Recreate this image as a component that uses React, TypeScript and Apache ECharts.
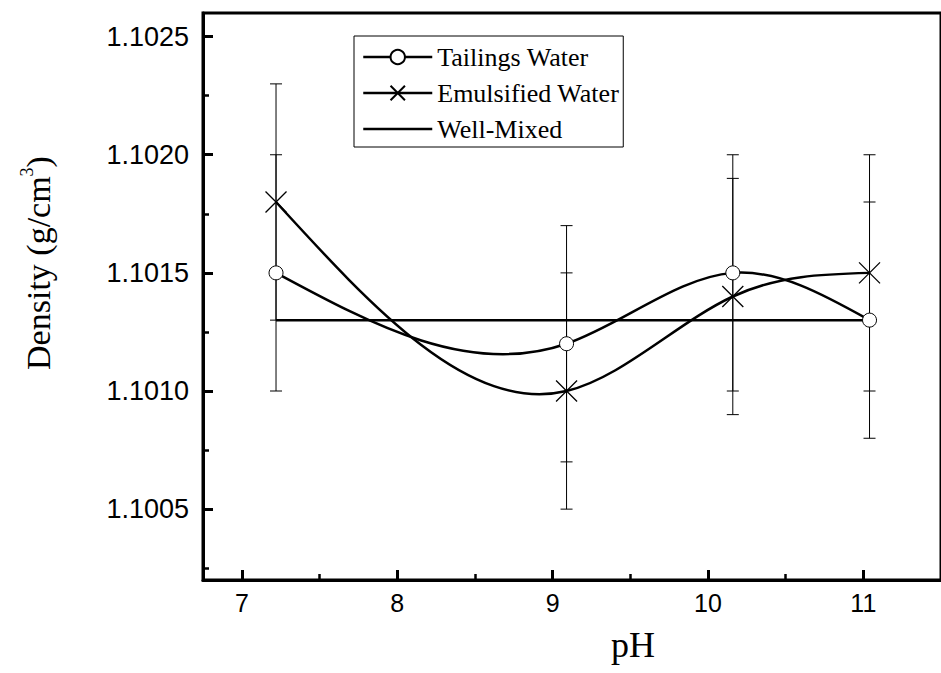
import React, { useEffect, useRef } from "react";
import * as echarts from "echarts";

const phValues = [7.22, 9.09, 10.16, 11.04];
const tailingsWater = [1.1015, 1.1012, 1.1015, 1.1013];
const tailingsErr = [0.0005, 0.0005, 0.0005, 0.0005];
const emulsifiedWater = [1.1018, 1.101, 1.1014, 1.1015];
const emulsifiedErr = [0.0005, 0.0005, 0.0005, 0.0005];
const wellMixed = [1.1013, 1.1013, 1.1013, 1.1013];
const seriesNames = ["Tailings Water", "Emulsified Water", "Well-Mixed"];
const xTicks = [7, 8, 9, 10, 11];
const xMinorTicks = [7.5, 8.5, 9.5, 10.5];
const yTicks = [1.1005, 1.101, 1.1015, 1.102, 1.1025];
const yMinorTicks = [1.10025, 1.10075, 1.10125, 1.10175, 1.10225];

const X_MIN = 6.75;
const X_MAX = 11.5;
const Y_MIN = 1.1002;
const Y_MAX = 1.1026;

const pairs = (vals: number[]) => phValues.map((x, i) => [x, vals[i]]);
const errData = (vals: number[], errs: number[]) =>
  phValues.map((x, i) => [x, vals[i] - errs[i], vals[i] + errs[i]]);

const errorRender = (params: any, api: any) => {
  const x = api.value(0);
  const lo = api.coord([x, api.value(1)]);
  const hi = api.coord([x, api.value(2)]);
  const hw = 6;
  const style = { stroke: "#000", lineWidth: 1, fill: "none" };
  return {
    type: "group",
    children: [
      { type: "line", shape: { x1: lo[0], y1: lo[1], x2: hi[0], y2: hi[1] }, style },
      { type: "line", shape: { x1: lo[0] - hw, y1: lo[1], x2: lo[0] + hw, y2: lo[1] }, style },
      { type: "line", shape: { x1: hi[0] - hw, y1: hi[1], x2: hi[0] + hw, y2: hi[1] }, style },
    ],
  };
};

// Natural cubic spline connecting line (Origin "Spline" style), drawn in pixel space
const splineRender = (vals: number[]) => (params: any, api: any) => {
  const i = params.dataIndex;
  const n = phValues.length;
  if (i >= n - 1) return { type: "group", children: [] };
  const pts = phValues.map((x, k) => api.coord([x, vals[k]]));
  const xs = pts.map((p: number[]) => p[0]);
  const ys = pts.map((p: number[]) => p[1]);
  const h: number[] = [];
  for (let k = 0; k < n - 1; k++) h[k] = xs[k + 1] - xs[k];
  const M = new Array(n).fill(0);
  const a: number[] = [], b: number[] = [], c: number[] = [], d: number[] = [];
  for (let k = 1; k < n - 1; k++) {
    a[k] = h[k - 1];
    b[k] = 2 * (h[k - 1] + h[k]);
    c[k] = h[k];
    d[k] = 6 * ((ys[k + 1] - ys[k]) / h[k] - (ys[k] - ys[k - 1]) / h[k - 1]);
  }
  for (let k = 2; k < n - 1; k++) {
    const w = a[k] / b[k - 1];
    b[k] -= w * c[k - 1];
    d[k] -= w * d[k - 1];
  }
  for (let k = n - 2; k >= 1; k--) {
    M[k] = (d[k] - (k < n - 2 ? c[k] * M[k + 1] : 0)) / b[k];
  }
  const sec = (ys[i + 1] - ys[i]) / h[i];
  const s0 = sec - (h[i] * (2 * M[i] + M[i + 1])) / 6;
  const s1 = sec + (h[i] * (2 * M[i + 1] + M[i])) / 6;
  const t = h[i] / 3;
  return {
    type: "bezierCurve",
    shape: {
      x1: xs[i],
      y1: ys[i],
      cpx1: xs[i] + t,
      cpy1: ys[i] + s0 * t,
      cpx2: xs[i + 1] - t,
      cpy2: ys[i + 1] - s1 * t,
      x2: xs[i + 1],
      y2: ys[i + 1],
    },
    style: { stroke: "#000", lineWidth: 2.5, fill: "none" },
  };
};

export default function App() {
  const ref = useRef<HTMLDivElement>(null);
  useEffect(() => {
    if (!ref.current) return;
    const chart = echarts.init(ref.current, null, { renderer: "svg" });
    const axisCommon = {
      type: "value",
      splitLine: { show: false },
    };
    chart.setOption({
      animation: false,
      backgroundColor: "#fff",
      grid: {
        left: 203,
        top: 13,
        width: 748,
        height: 567,
        show: true,
        borderColor: "#000",
        borderWidth: 3,
        backgroundColor: "transparent",
      },
      legend: {
        data: [
          seriesNames[0],
          seriesNames[1],
          { name: seriesNames[2], itemStyle: { opacity: 0 } },
        ],
        orient: "vertical",
        left: 354,
        top: 36,
        itemWidth: 69,
        itemHeight: 18,
        itemGap: 10,
        padding: [8, 4, 5, 8],
        borderColor: "#000",
        borderWidth: 1,
        selectedMode: false,
        lineStyle: { color: "#000", width: 2.5, opacity: 1 },
        textStyle: { fontFamily: "Liberation Serif", fontSize: 26, color: "#000" },
      },
      xAxis: [
        {
          ...axisCommon,
          min: X_MIN,
          max: X_MAX,
          position: "bottom",
          axisLine: { onZero: false, lineStyle: { color: "#000", width: 3 } },
          axisTick: {
            inside: true,
            length: 10,
            customValues: xTicks,
            lineStyle: { color: "#000", width: 3 },
          },
          axisLabel: {
            customValues: xTicks,
            fontFamily: "Liberation Sans",
            fontSize: 25,
            color: "#000",
            margin: 10,
          },
        },
        {
          ...axisCommon,
          min: X_MIN,
          max: X_MAX,
          position: "bottom",
          axisLine: { show: false, onZero: false },
          axisTick: {
            inside: true,
            length: 6,
            customValues: xMinorTicks,
            lineStyle: { color: "#000", width: 2.5 },
          },
          axisLabel: { show: false },
        },
      ],
      yAxis: [
        {
          ...axisCommon,
          min: Y_MIN,
          max: Y_MAX,
          position: "left",
          axisLine: { show: true, onZero: false, lineStyle: { color: "#000", width: 3 } },
          axisTick: {
            show: true,
            inside: true,
            length: 10,
            customValues: yTicks,
            lineStyle: { color: "#000", width: 3 },
          },
          axisLabel: {
            customValues: yTicks,
            formatter: (v: number) => v.toFixed(4),
            fontFamily: "Liberation Sans",
            fontSize: 27,
            color: "#000",
            margin: 14,
          },
        },
        {
          ...axisCommon,
          min: Y_MIN,
          max: Y_MAX,
          position: "left",
          axisLine: { show: false, onZero: false },
          axisTick: {
            show: true,
            inside: true,
            length: 6,
            customValues: yMinorTicks,
            lineStyle: { color: "#000", width: 2.5 },
          },
          axisLabel: { show: false },
        },
      ],
      graphic: [
        {
          type: "text",
          x: 38,
          y: 263,
          rotation: Math.PI / 2,
          style: {
            text: "{a|Density (g/cm}{s|3}{a|)}",
            align: "center",
            verticalAlign: "middle",
            rich: {
              a: { fontFamily: "Liberation Serif", fontSize: 34, fill: "#000", lineHeight: 40 },
              s: { fontFamily: "Liberation Serif", fontSize: 18, fill: "#000", verticalAlign: "top", lineHeight: 18 },
            },
          },
        },
        {
          type: "text",
          x: 633,
          y: 645,
          style: {
            text: "pH",
            align: "center",
            verticalAlign: "middle",
            fontFamily: "Liberation Serif",
            fontSize: 36,
            fill: "#000",
          },
        },
      ],
      series: [
        {
          type: "custom",
          silent: true,
          z: 1,
          xAxisIndex: 0,
          yAxisIndex: 0,
          data: errData(tailingsWater, tailingsErr),
          encode: { x: 0, y: [1, 2] },
          renderItem: errorRender,
        },
        {
          type: "custom",
          silent: true,
          z: 1,
          xAxisIndex: 0,
          yAxisIndex: 0,
          data: errData(emulsifiedWater, emulsifiedErr),
          encode: { x: 0, y: [1, 2] },
          renderItem: errorRender,
        },
        {
          type: "custom",
          silent: true,
          z: 2,
          xAxisIndex: 0,
          yAxisIndex: 0,
          data: pairs(tailingsWater),
          encode: { x: 0, y: 1 },
          renderItem: splineRender(tailingsWater),
        },
        {
          type: "custom",
          silent: true,
          z: 2,
          xAxisIndex: 0,
          yAxisIndex: 0,
          data: pairs(emulsifiedWater),
          encode: { x: 0, y: 1 },
          renderItem: splineRender(emulsifiedWater),
        },
        {
          name: seriesNames[2],
          type: "line",
          z: 2,
          xAxisIndex: 0,
          yAxisIndex: 0,
          data: pairs(wellMixed),
          symbol: "none",
          lineStyle: { color: "#000", width: 2.5 },
          itemStyle: { color: "rgba(0,0,0,0)", borderWidth: 0 },
        },
        {
          name: seriesNames[0],
          type: "line",
          z: 3,
          xAxisIndex: 0,
          yAxisIndex: 0,
          data: pairs(tailingsWater),
          symbol: "circle",
          symbolSize: 14,
          lineStyle: { color: "#000", width: 0 },
          itemStyle: { color: "#fff", borderColor: "#000", borderWidth: 1 },
        },
        {
          name: seriesNames[1],
          type: "line",
          z: 3,
          xAxisIndex: 0,
          yAxisIndex: 0,
          data: pairs(emulsifiedWater),
          symbol: "path://M0 0L10 10M10 0L0 10",
          symbolSize: 21,
          lineStyle: { color: "#000", width: 0 },
          itemStyle: { color: "#000", borderColor: "#000", borderWidth: 1.3 },
        },
      ],
    });
    return () => chart.dispose();
  }, []);
  return (
    <div
      ref={ref}
      style={{ position: "absolute", left: 0, top: 0, width: 941, height: 673, background: "#fff" }}
    />
  );
}
